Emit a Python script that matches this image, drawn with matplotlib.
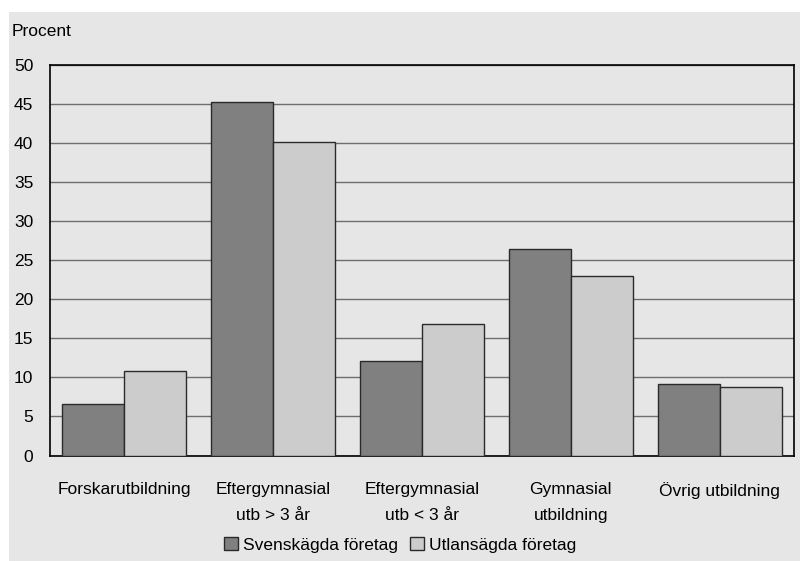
import matplotlib
import matplotlib.pyplot as plt
import numpy as np
from matplotlib.patches import Rectangle

matplotlib.use("Agg")

plt.rcParams["font.family"] = ["Liberation Sans", "DejaVu Sans"]

categories = [
    "Forskarutbildning",
    "Eftergymnasial\nutb > 3 år",
    "Eftergymnasial\nutb < 3 år",
    "Gymnasial\nutbildning",
    "Övrig utbildning",
]
svenska = [6.6, 45.3, 12.1, 26.5, 9.1]
utlandska = [10.8, 40.2, 16.8, 23.0, 8.8]
series_names = ["Svenskägda företag", "Utlansägda företag"]

BG = "#e6e6e6"
DARK = "#808080"
LIGHT = "#cccccc"
GRID = "#6e6e6e"
FS = 12.5

fig = plt.figure(figsize=(8, 5.61), dpi=100)
fig.patch.set_facecolor("white")
fig.patches.append(Rectangle((9 / 800, 0), 1 - 9 / 800, 1 - 12 / 561,
                             transform=fig.transFigure, facecolor=BG,
                             edgecolor="none", zorder=-5))

ax = fig.add_axes([50 / 800, 1 - 455.5 / 561, 744 / 800, 390.5 / 561])
ax.set_zorder(2)
ax.set_facecolor(BG)

x = np.arange(len(categories))
w = 0.4167
ax.bar(x - w / 2, svenska, w, color=DARK, edgecolor="#2a2a2a", linewidth=1.0,
       label=series_names[0], zorder=3)
ax.bar(x + w / 2, utlandska, w, color=LIGHT, edgecolor="#2a2a2a", linewidth=1.0,
       label=series_names[1], zorder=3)

ax.set_xlim(-0.5, len(categories) - 0.5)
ax.set_ylim(0, 50)
ax.set_yticks(range(0, 51, 5))
ax.yaxis.grid(True, color=GRID, linewidth=1.0, zorder=1)
ax.set_axisbelow(True)
ax.tick_params(axis="both", length=0, labelsize=FS)
ax.tick_params(axis="y", pad=12)
ax.tick_params(axis="x", pad=19)
ax.set_xticks(x)
ax.set_xticklabels(categories, linespacing=1.9, va="top")
for sp in ax.spines.values():
    sp.set_color("black")
    sp.set_linewidth(1.2)

fig.text(12 / 800, 1 - 31 / 561, "Procent", fontsize=FS, va="center", ha="left")

leg = fig.legend(loc="center", bbox_to_anchor=(0.5, 1 - 545 / 561), ncol=2,
                 frameon=False, fontsize=FS, handlelength=0.8, handleheight=0.8,
                 handletextpad=0.3, columnspacing=0.7, borderpad=0)

fig.savefig("out.png", dpi=100, facecolor=fig.get_facecolor())
